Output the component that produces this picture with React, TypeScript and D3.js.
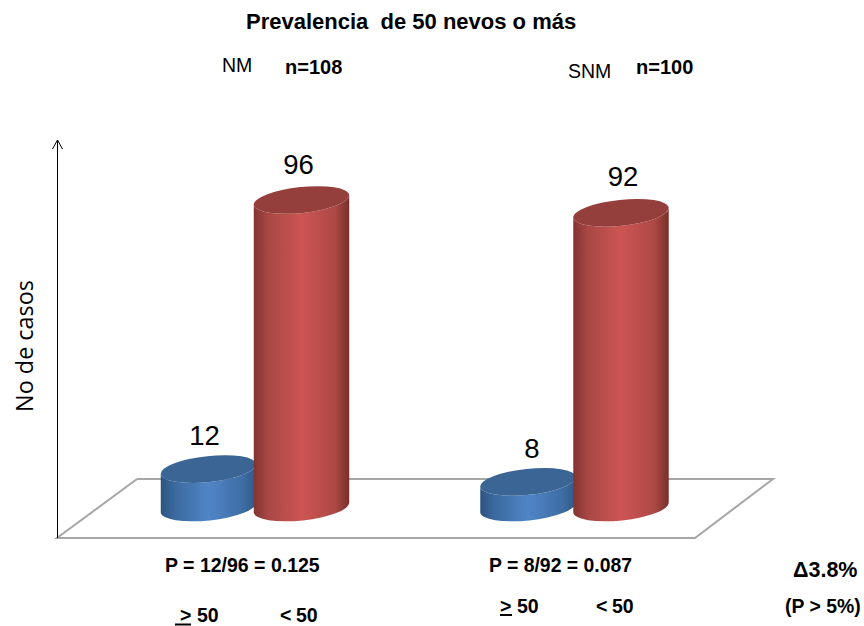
import React from "react";
import * as d3 from "d3";

const groups = ["NM", "SNM"];
const seriesKeys = ["atLeast50", "under50"];
const atLeast50 = [12, 8];
const under50 = [96, 92];
const sampleSizes = ["n=108", "n=100"];
const ratioLabels = ["P = 12/96 = 0.125", "P = 8/92 = 0.087"];

const W = 864;
const H = 626;
const FONT = "'Liberation Sans', Arial, sans-serif";

// Bar heights on the value axis; baseline sits on the floor plane.
const y = d3.scaleLinear().domain([0, 96]).range([507.5, 200]);
const xGroup = d3.scalePoint<string>().domain(groups).range([255, 574.5]);
const xSeries = d3.scalePoint<string>().domain(seriesKeys).range([-46.5, 46.5]);

const RX = 48;
const RY = 13;
const TILT = -6;

function cylinderBody(cx: number, top: number, bottom: number) {
  const t = (TILT * Math.PI) / 180;
  const dx = RX * Math.cos(t);
  const dy = RX * Math.sin(t);
  return [
    `M${cx - dx},${top - dy}`,
    `L${cx - dx},${bottom - dy}`,
    `A${RX},${RY} ${TILT} 0 0 ${cx + dx},${bottom + dy}`,
    `L${cx + dx},${top + dy}`,
    `A${RX},${RY} ${TILT} 0 1 ${cx - dx},${top - dy}`,
    "Z",
  ].join(" ");
}

function Cylinder({ cx, value, kind }: { cx: number; value: number; kind: string }) {
  const top = y(value);
  return (
    <g>
      <path d={cylinderBody(cx, top, y(0))} fill={`url(#body-${kind})`} />
      <ellipse
        cx={cx}
        cy={top}
        rx={RX}
        ry={RY}
        transform={`rotate(${TILT} ${cx} ${top})`}
        fill={kind === "blue" ? "#3b6594" : "#953f3d"}
      />
    </g>
  );
}

const floorLine = d3.line()([
  [137, 479],
  [773, 479],
  [695, 538],
  [57, 538],
  [137, 479],
]) as string;

const bold = { fontFamily: FONT, fontWeight: 700, fill: "#000" } as const;
const plain = { fontFamily: FONT, fontWeight: 400, fill: "#000" } as const;

export default function App() {
  const bars = groups.flatMap((g, i) => [
    { g, key: seriesKeys[0], value: atLeast50[i], kind: "blue", labelDx: i === 0 ? -4 : 4, labelDy: -24 },
    { g, key: seriesKeys[1], value: under50[i], kind: "red", labelDx: i === 0 ? -3 : 2, labelDy: i === 0 ? -26 : -27 },
  ]);
  return (
    <svg
      width={W}
      height={H}
      viewBox={`0 0 ${W} ${H}`}
      style={{ position: "absolute", left: 0, top: 0, background: "#fff" }}
    >
      <defs>
        <linearGradient id="body-blue" x1="0" x2="1" y1="0" y2="0">
          <stop offset="0" stopColor="#2c5480" />
          <stop offset="0.15" stopColor="#3c6a9f" />
          <stop offset="0.5" stopColor="#5085c6" />
          <stop offset="0.85" stopColor="#3f6ea6" />
          <stop offset="1" stopColor="#2f5a88" />
        </linearGradient>
        <linearGradient id="body-red" x1="0" x2="1" y1="0" y2="0">
          <stop offset="0" stopColor="#823331" />
          <stop offset="0.15" stopColor="#a84745" />
          <stop offset="0.5" stopColor="#cd5553" />
          <stop offset="0.85" stopColor="#ad4846" />
          <stop offset="1" stopColor="#773028" />
        </linearGradient>
        <marker id="axis-arrow" markerUnits="userSpaceOnUse" viewBox="0 0 12 12" refX="6" refY="1" markerWidth="12" markerHeight="12" orient="0">
          <path d="M1,10 L6,1 L11,10" fill="none" stroke="#000" strokeWidth="1" />
        </marker>
      </defs>

      <text x={246} y={29} fontSize={22} style={bold} xmlSpace="preserve">
        Prevalencia  de 50 nevos o más
      </text>
      <text x={222} y={72} fontSize={19.5} style={plain}>{groups[0]}</text>
      <text x={285} y={74} fontSize={20} style={bold}>{sampleSizes[0]}</text>
      <text x={568} y={78} fontSize={19.5} style={plain}>{groups[1]}</text>
      <text x={636} y={74} fontSize={20} style={bold}>{sampleSizes[1]}</text>

      <path d={floorLine} fill="none" stroke="#a6a6a6" strokeWidth={2} />
      <line x1={57.5} y1={538} x2={57.5} y2={140} stroke="#000" strokeWidth={1} markerEnd="url(#axis-arrow)" />

      <text
        transform="translate(33,346) rotate(-90)"
        textAnchor="middle"
        fontSize={23.4}
        fontFamily="'Open Sans', sans-serif"
        fill="#000"
      >
        No de casos
      </text>

      {bars.map((b) => (
        <Cylinder
          key={b.g + b.key}
          cx={(xGroup(b.g) as number) + (xSeries(b.key) as number)}
          value={b.value}
          kind={b.kind}
        />
      ))}
      {bars.map((b) => (
        <text
          key={"label" + b.g + b.key}
          x={(xGroup(b.g) as number) + (xSeries(b.key) as number) + b.labelDx}
          y={y(b.value) + b.labelDy}
          textAnchor="middle"
          fontSize={27.5}
          style={plain}
        >
          {b.value}
        </text>
      ))}

      <text x={165} y={572} fontSize={19.5} style={bold}>{ratioLabels[0]}</text>
      <text x={489} y={572} fontSize={19.4} style={bold}>{ratioLabels[1]}</text>

      <text x={180} y={622} fontSize={19.5} style={bold}>&gt;</text>
      <text x={197} y={622} fontSize={19.5} style={bold}>50</text>
      <line x1={175} x2={191} y1={624.5} y2={624.5} stroke="#000" strokeWidth={2} />
      <text x={280} y={622} fontSize={19.5} style={bold}>&lt;</text>
      <text x={296} y={622} fontSize={19.5} style={bold}>50</text>

      <text x={500} y={613} fontSize={19.5} style={bold}>&gt;</text>
      <text x={517} y={613} fontSize={19.5} style={bold}>50</text>
      <line x1={500} x2={512} y1={615} y2={615} stroke="#000" strokeWidth={2} />
      <text x={596} y={613} fontSize={19.5} style={bold}>&lt;</text>
      <text x={612} y={613} fontSize={19.5} style={bold}>50</text>

      <text x={793} y={577} fontSize={21.5} style={bold}>Δ3.8%</text>
      <text x={785} y={613} fontSize={19.4} style={bold}>(P &gt; 5%)</text>
    </svg>
  );
}
